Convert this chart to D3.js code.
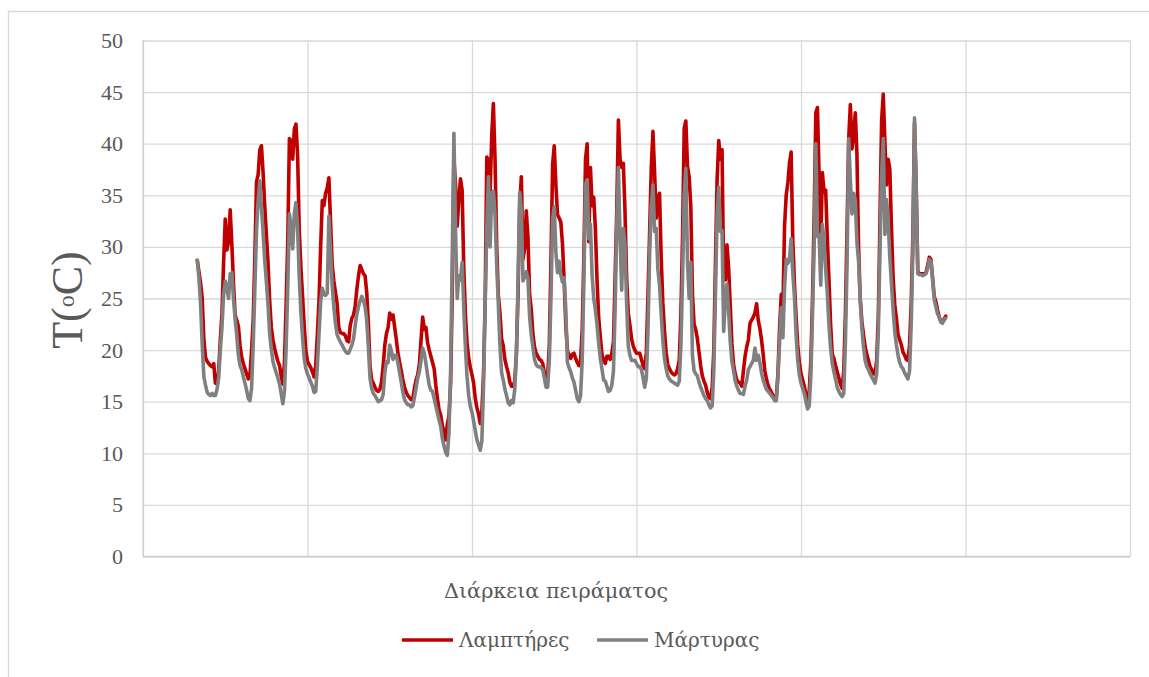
<!DOCTYPE html>
<html>
<head>
<meta charset="utf-8">
<script src="https://cdn.jsdelivr.net/npm/d3@7"></script>
<style>
  html, body { margin: 0; padding: 0; background: #ffffff; }
  svg { display: block; }
  text { font-family: "Liberation Serif", "DejaVu Serif", serif; fill: #595959; }
  text.greek { font-family: "DejaVu Serif", "Liberation Serif", serif; }
</style>
</head>
<body>
<svg id="chart" width="1149" height="677"></svg>
<script>
// Temperature readings (°C), one reading per index step, starting at readingStart
const readingStart = 33;
const readingDomain = [0, 600];
const readingGrid = [0, 100, 200, 300, 400, 500, 600];
const yTicks = [0, 5, 10, 15, 20, 25, 30, 35, 40, 45, 50];
const seriesNames = ["Λαμπτήρες", "Μάρτυρας"];
const xTitle = "Διάρκεια πειράματος";

const lampTemps = [
  28.7, 27.6, 26.5, 25.0, 21.0, 19.3, 18.9, 18.7, 18.5, 18.4,
  18.7, 16.8, 16.8, 18.0, 21.0, 23.5, 28.5, 32.7, 29.7, 30.5,
  33.6, 30.3, 26.5, 23.4, 22.9, 22.3, 20.4, 19.3, 18.7, 18.2,
  17.7, 17.2, 17.5, 19.9, 23.0, 29.0, 36.3, 37.0, 39.4, 39.8,
  37.2, 34.0, 31.2, 28.5, 24.8, 22.2, 21.0, 20.2, 19.5, 18.9,
  18.5, 17.5, 16.7, 18.8, 24.4, 30.5, 40.5, 40.3, 38.5, 41.4,
  41.9, 38.8, 31.5, 28.0, 25.2, 22.4, 19.9, 18.9, 18.6, 18.3,
  17.9, 17.4,
  18.5, 21.5, 24.8, 30.0, 34.5, 34.0, 35.2, 35.7, 36.7, 32.5,
  28.3, 26.7, 25.6, 24.5, 22.2, 21.7, 21.6, 21.6, 21.4, 20.9,
  20.8, 22.4, 23.1, 23.4, 24.3, 25.9, 27.2, 28.2, 27.8, 27.4,
  27.2, 25.6, 22.6, 18.5, 17.1, 16.8, 16.4, 16.1, 16.0, 16.2,
  16.9, 18.5, 20.5, 21.6, 22.2, 23.6, 23.0, 23.4, 22.2, 21.0,
  19.7, 18.8, 18.0, 17.1, 16.4, 15.9, 15.6, 15.4, 15.2, 15.3,
  16.3, 17.1, 17.6, 18.6, 20.9, 23.2, 22.0, 22.2, 20.7, 20.0,
  19.4, 18.8, 18.2, 16.6, 15.3, 14.2,
  13.7, 12.7, 12.0, 11.3, 12.8, 13.6, 16.8, 25.5, 38.5, 36.0,
  32.0, 34.6, 36.6, 35.5, 28.0, 23.4, 20.7, 19.2, 18.3, 17.6,
  16.8, 15.3, 14.4, 13.8, 12.9, 14.0, 17.7, 24.8, 38.7, 38.4,
  35.2, 40.8, 43.9, 38.5, 30.2, 25.3, 23.6, 21.1, 20.4, 19.1,
  18.4, 17.8, 16.9, 16.5, 16.5, 17.0, 19.7, 25.5, 34.0, 36.8,
  28.8, 29.9, 33.5, 31.0, 25.5, 24.0, 21.6, 20.3, 19.7, 19.4,
  19.1, 19.0, 18.7, 17.8, 17.2, 17.5, 20.5, 28.5, 38.0, 39.8,
  36.0, 33.1, 32.8, 32.4, 30.3, 26.8,
  22.5, 20.0, 19.4, 19.2, 19.6, 19.7, 19.2, 18.8, 18.5, 18.9,
  22.0, 29.0, 38.5, 40.0, 30.5, 37.7, 34.0, 34.8, 31.8, 26.8,
  23.2, 21.3, 19.6, 19.0, 18.7, 19.4, 19.4, 19.1, 19.7, 20.8,
  27.0, 33.5, 42.3, 38.5, 37.7, 38.1, 33.5, 27.0, 23.6, 22.4,
  21.1, 20.4, 20.0, 19.7, 19.7, 19.7, 19.1, 18.5, 18.2, 19.8,
  25.5, 31.5, 37.7, 41.2, 37.2, 32.8, 34.7, 35.2, 29.0, 24.6,
  21.9, 19.8, 18.6, 18.2, 17.9, 17.7, 17.6, 17.7, 18.2, 19.0,
  23.5, 31.0, 41.5, 42.2, 37.8, 36.8,
  34.0, 25.5, 22.5, 22.0, 21.1, 19.8, 18.5, 17.5, 17.0, 16.6,
  15.9, 15.4, 15.3, 16.4, 20.0, 28.5, 36.5, 40.3, 38.5, 39.4,
  27.0, 26.8, 30.2, 28.0, 24.3, 20.6, 18.6, 17.7, 17.1, 16.9,
  16.8, 16.5, 18.0, 19.4, 20.3, 21.0, 22.6, 22.9, 23.2, 23.6,
  24.5, 22.9, 22.1, 21.0, 19.6, 18.0, 17.2, 16.6, 16.2, 15.9,
  15.6, 15.3, 15.4, 17.8, 22.2, 25.4, 24.0, 32.0, 35.0, 36.2,
  38.1, 39.2, 30.7, 26.5, 23.3, 20.5, 18.8, 17.7, 17.1, 16.5,
  15.7, 15.1, 16.0, 19.0, 25.0, 33.0,
  43.0, 43.5, 37.0, 30.2, 37.2, 35.3, 35.5, 30.8, 26.8, 22.5,
  19.6, 19.2, 18.5, 17.9, 17.3, 16.7, 16.3, 18.0, 23.5, 31.8,
  40.5, 43.8, 39.5, 40.8, 43.0, 39.0, 30.0, 25.0, 22.8, 21.5,
  20.3, 19.6, 19.0, 18.4, 18.1, 17.7, 17.7, 19.0, 23.3, 32.5,
  42.2, 44.8, 40.2, 36.0, 38.5, 37.5, 31.8, 27.0, 24.4, 23.1,
  21.5, 21.0, 20.5, 19.8, 19.5, 19.1, 19.0, 20.5, 24.6, 31.0,
  42.0, 36.0, 27.6, 27.4, 27.4, 27.4, 27.4, 27.5, 28.2, 29.0,
  28.8, 27.0, 25.2, 24.7, 23.9, 23.2, 22.8, 22.7, 23.0, 23.3
];

const controlTemps = [
  28.7, 27.0, 24.5, 20.5, 17.4, 16.6, 15.9, 15.7, 15.6, 15.8,
  15.6, 15.6, 16.2, 17.3, 20.0, 22.2, 25.4, 26.7, 26.0, 25.0,
  27.4, 27.5, 25.0, 23.0, 21.4, 19.5, 18.5, 18.1, 17.4, 16.8,
  16.1, 15.3, 15.1, 16.3, 20.5, 26.0, 31.5, 34.5, 36.4, 33.9,
  31.4, 28.7, 26.6, 24.4, 21.6, 20.1, 18.9, 18.3, 17.8, 17.3,
  16.7, 15.8, 14.8, 16.0, 20.2, 26.0, 33.2, 32.0, 29.8, 33.2,
  34.3, 31.8, 27.0, 23.6, 21.2, 19.2, 18.2, 17.7, 17.3, 16.9,
  16.5, 15.9,
  16.0, 18.5, 21.6, 24.7, 26.0, 25.4, 25.3, 25.5, 33.0, 29.5,
  26.3, 24.2, 22.6, 21.5, 21.1, 20.8, 20.5, 20.2, 19.9, 19.7,
  19.7, 20.1, 20.5, 21.1, 22.4, 23.5, 24.2, 24.8, 25.2, 24.8,
  24.2, 22.9, 20.3, 17.3, 16.3, 15.8, 15.6, 15.3, 15.0, 15.1,
  15.2, 15.7, 17.8, 18.9, 18.8, 20.5, 19.9, 19.1, 19.5, 19.5,
  18.7, 17.8, 16.9, 15.9, 15.2, 14.9, 14.7, 14.7, 14.5, 14.6,
  15.4, 16.3, 17.3, 17.9, 19.0, 20.2, 19.7, 18.7, 17.6, 16.6,
  16.1, 16.0, 15.3, 14.6, 13.9, 13.2,
  12.6, 11.4, 10.7, 10.1, 9.8, 12.0, 18.0, 29.0, 41.0, 31.5,
  25.0, 27.2, 26.8, 28.5, 24.2, 20.2, 17.4, 15.6, 14.5, 14.0,
  13.1, 12.2, 11.3, 10.8, 10.3, 11.2, 16.4, 24.3, 31.8, 36.8,
  30.0, 35.2, 35.4, 33.2, 28.3, 24.5, 20.4, 17.8, 17.1, 16.2,
  15.6, 14.9, 14.7, 15.1, 14.9, 16.2, 19.6, 26.8, 35.3, 33.5,
  26.7, 27.1, 27.6, 26.9, 23.3, 21.5, 20.3, 19.1, 18.6, 18.4,
  18.4, 18.3, 18.1, 17.3, 16.4, 16.4, 19.0, 25.0, 32.7, 33.9,
  29.5, 27.5, 28.6, 27.3, 26.6, 27.0,
  24.0, 18.8, 18.3, 17.9, 17.3, 16.9, 16.1, 15.3, 15.0, 15.6,
  19.0, 26.5, 36.0, 36.5, 30.8, 32.2, 27.3, 25.0, 23.9, 22.5,
  20.7, 19.2, 18.2, 17.1, 17.0, 16.5, 16.0, 16.1, 16.6, 18.0,
  24.0, 32.0, 37.7, 31.0, 25.8, 31.8, 30.2, 24.5, 20.4, 19.5,
  19.0, 19.0, 19.0, 18.7, 18.4, 18.4, 18.1, 17.3, 16.4, 17.3,
  22.0, 29.5, 34.0, 36.0, 31.5, 31.8, 27.8, 26.3, 23.5, 21.0,
  19.2, 18.2, 17.5, 17.2, 17.0, 16.9, 16.8, 16.7, 16.6, 17.0,
  20.5, 27.0, 35.0, 37.6, 28.5, 25.0,
  28.5, 19.5, 18.0, 17.7, 17.5, 16.9, 16.4, 16.0, 15.6, 15.3,
  15.1, 14.7, 14.4, 14.6, 18.0, 25.5, 33.0, 35.8, 31.5, 31.6,
  21.8, 24.8, 26.4, 23.8, 20.8, 18.9, 18.0, 17.0, 16.5, 16.1,
  15.8, 15.8, 15.7, 16.5, 17.1, 18.1, 18.4, 18.7, 19.0, 20.2,
  19.0, 19.5, 18.8, 17.8, 17.1, 16.6, 16.2, 16.0, 15.8, 15.6,
  15.4, 15.1, 15.1, 17.4, 20.8, 24.1, 21.2, 26.0, 28.8, 28.4,
  28.8, 30.8, 27.5, 25.2, 21.5, 19.0, 17.6, 16.8, 16.3, 15.8,
  15.0, 14.3, 14.6, 17.5, 23.5, 30.0,
  40.0, 31.0, 31.2, 26.3, 32.2, 30.5, 27.8, 25.5, 22.5, 20.2,
  18.7, 17.9, 17.2, 16.4, 16.0, 15.7, 15.5, 15.8, 20.8, 28.4,
  40.5, 36.5, 33.2, 35.2, 34.5, 30.5, 28.6, 24.8, 22.1, 20.3,
  19.0, 18.4, 18.1, 17.7, 17.4, 17.1, 16.8, 17.7, 21.8, 29.5,
  37.0, 40.5, 31.2, 34.6, 32.5, 29.0, 26.4, 23.9, 21.8, 20.5,
  19.5, 18.8, 18.4, 18.2, 17.8, 17.5, 17.2, 18.0, 22.5, 29.5,
  42.5, 36.0, 27.4, 27.3, 27.3, 27.2, 27.3, 27.4, 27.9, 28.8,
  28.6, 26.8, 24.9, 24.2, 23.5, 23.2, 22.7, 22.6, 22.9, 23.1
];

const seriesColors = ["#C00000", "#808080"];

const svg = d3.select("#chart");
const plot = { left: 143, right: 1130, top: 40.5, bottom: 556.5 };

const x = d3.scaleLinear().domain(readingDomain).range([plot.left, plot.right]);
const y = d3.scaleLinear().domain([0, 50]).range([plot.bottom, plot.top]);

// Outer chart frame (top and left edges visible)
svg.append("path")
  .attr("d", "M8.5,677 L8.5,11.5 L1149,11.5")
  .attr("fill", "none")
  .attr("stroke", "#d9d9d9")
  .attr("stroke-width", 1.3);

// Vertical gridlines
const xAxisG = svg.append("g")
  .attr("transform", `translate(0,${plot.bottom})`)
  .call(d3.axisBottom(x).tickValues(readingGrid).tickSize(-(plot.bottom - plot.top)).tickFormat(""));
xAxisG.select(".domain").remove();
xAxisG.selectAll(".tick line").attr("stroke", "#d9d9d9").attr("stroke-width", 1.3);

// Horizontal gridlines and y tick labels
const yAxisG = svg.append("g")
  .attr("transform", `translate(${plot.left},0)`)
  .call(d3.axisLeft(y).tickValues(yTicks).tickSize(-(plot.right - plot.left)).tickPadding(20));
yAxisG.select(".domain").remove();
yAxisG.selectAll(".tick line").attr("stroke", "#d9d9d9").attr("stroke-width", 1.3);
yAxisG.selectAll(".tick text")
  .attr("fill", "#595959")
  .style("font-family", '"Liberation Serif", serif')
  .style("font-size", "22px");

// Axis lines
svg.append("line")
  .attr("x1", plot.left).attr("x2", plot.left)
  .attr("y1", plot.top).attr("y2", plot.bottom)
  .attr("stroke", "#cfcfcf").attr("stroke-width", 1.3);
svg.append("line")
  .attr("x1", plot.left).attr("x2", plot.right)
  .attr("y1", plot.bottom).attr("y2", plot.bottom)
  .attr("stroke", "#cfcfcf").attr("stroke-width", 1.3);

// Series lines: lamps first, control drawn on top
const line = d3.line()
  .x((d, i) => x(readingStart + i))
  .y(d => y(d));

[lampTemps, controlTemps].forEach((values, k) => {
  svg.append("path")
    .datum(values)
    .attr("fill", "none")
    .attr("stroke", seriesColors[k])
    .attr("stroke-width", 3.6)
    .attr("stroke-linejoin", "round")
    .attr("stroke-linecap", "round")
    .attr("d", line);
});

// Y axis title (baseline at the translate x after rotation)
const yTitle = svg.append("text")
  .attr("transform", "translate(82,300) rotate(-90)")
  .attr("text-anchor", "middle")
  .style("font-size", "44px");
yTitle.append("tspan").text("T(");
yTitle.append("tspan").attr("dy", -8).style("font-size", "24px").text("o");
yTitle.append("tspan").attr("dy", 8).text("C)");

// X axis title
svg.append("text")
  .attr("class", "greek")
  .attr("x", 556)
  .attr("y", 598)
  .attr("text-anchor", "middle")
  .style("font-size", "20.8px")
  .text(xTitle);

// Legend
const legendItems = [
  { name: seriesNames[0], color: seriesColors[0], x: 402 },
  { name: seriesNames[1], color: seriesColors[1], x: 597 }
];
const legend = svg.append("g");
legendItems.forEach(item => {
  legend.append("line")
    .attr("x1", item.x).attr("x2", item.x + 51)
    .attr("y1", 640).attr("y2", 640)
    .attr("stroke", item.color)
    .attr("stroke-width", 3.6);
  legend.append("text")
    .attr("class", "greek")
    .attr("x", item.x + 57)
    .attr("y", 647)
    .style("font-size", "20px")
    .text(item.name);
});
</script>
</body>
</html>
